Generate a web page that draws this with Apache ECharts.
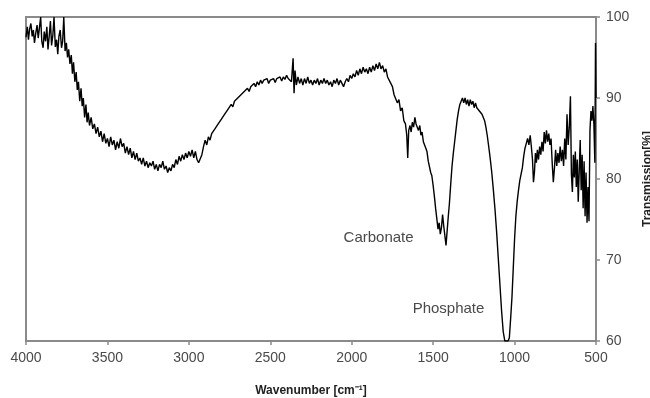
<!DOCTYPE html>
<html>
<head>
<meta charset="utf-8">
<script src="https://cdn.jsdelivr.net/npm/echarts@6/dist/echarts.min.js"></script>
<style>html,body{margin:0;padding:0;background:#fff}#c{width:650px;height:398px}</style>
</head>
<body>
<div id="c"></div>
<script>
// Wavenumber (cm-1) and transmission (%)
const wavenumber = [
4000,3992,3985,3978,3970,3962,3955,3948,3940,3932,3925,3918,3910,3903,3895,3888,3880,3872,3865,3858,
3850,3843,3835,3828,3820,3812,3805,3798,3790,3782,3775,3768,3760,3752,3745,3738,3730,3722,3715,3708,
3700,3692,3685,3678,3670,3662,3655,3648,3640,3632,3625,3618,3610,3600,3590,3580,3570,3560,3550,3540,
3530,3520,3510,3500,3490,3480,3470,3460,3450,3440,3430,3420,3410,3400,3390,3380,3370,3360,3350,3340,
3330,3320,3310,3300,3290,3280,3270,3260,3250,3240,3230,3220,3210,3200,3190,3180,3170,3160,3150,3140,
3130,3120,3110,3100,3090,3080,3070,3060,3050,3040,3030,3020,3010,3000,2990,2980,2970,2960,2950,2940,
2930,2920,2910,2900,2890,2880,2870,2860,2850,2840,2830,2820,2810,2800,2790,2780,2770,2760,2750,2740,
2730,2720,2710,2700,2690,2680,2670,2660,2650,2640,2630,2620,2610,2600,2590,2580,2570,2560,2550,2540,
2530,2520,2510,2500,2490,2480,2470,2460,2450,2440,2430,2420,2410,2400,2390,2380,2370,2360,2354,2348,
2340,2330,2320,2310,2300,2290,2280,2270,2260,2250,2240,2230,2220,2210,2200,2190,2180,2170,2160,2150,
2140,2130,2120,2110,2100,2090,2080,2070,2060,2050,2040,2030,2020,2010,2000,1990,1980,1970,1960,1950,
1940,1930,1920,1910,1900,1890,1880,1870,1860,1850,1840,1830,1820,1810,1800,1790,1780,1770,1760,1750,
1740,1730,1720,1710,1700,1690,1680,1670,1662,1656,1650,1642,1635,1628,1620,1612,1605,1598,1590,1582,
1575,1568,1560,1552,1545,1538,1530,1522,1515,1508,1500,1492,1485,1478,1470,1463,1456,1449,1442,1435,
1428,1421,1414,1407,1400,1392,1384,1376,1368,1360,1352,1344,1336,1328,1320,1312,1304,1296,1288,1280,
1272,1264,1256,1248,1240,1232,1224,1216,1208,1200,1192,1184,1176,1168,1160,1150,1140,1130,1120,1110,
1100,1090,1080,1070,1060,1050,1040,1032,1024,1016,1008,1000,992,984,976,968,960,952,944,936,
928,920,912,904,897,890,884,878,872,866,860,853,846,839,832,825,818,811,804,797,
790,783,776,769,762,755,748,741,734,727,720,713,706,699,692,685,678,671,664,657,
651,645,639,633,627,621,615,609,603,597,591,585,579,573,567,561,555,549,543,537,
531,525,519,513,507,503,500
];
const transmission = [
97.5,98.8,97.2,98.5,99.2,97.6,98.4,96.8,98.0,99.0,97.4,98.6,100.0,97.0,96.2,98.2,97.0,98.8,96.0,97.5,
99.5,96.5,97.8,100.0,96.3,97.2,95.4,97.6,98.4,96.2,97.0,100.0,95.8,96.8,95.0,96.0,94.2,95.3,93.0,94.4,
92.0,93.2,91.0,92.0,89.6,91.2,89.0,90.0,87.6,89.2,87.0,88.2,86.6,87.6,86.2,86.8,85.6,86.4,85.2,85.9,
84.6,85.6,84.4,85.0,84.0,85.2,84.2,84.8,83.6,84.6,83.8,85.0,84.0,84.4,83.2,84.0,83.0,83.8,82.6,83.4,
82.4,83.2,82.2,82.6,81.8,82.6,81.6,82.2,81.4,82.0,81.6,82.2,81.2,81.8,81.0,81.8,81.4,82.2,81.2,81.6,
80.8,81.4,81.0,81.8,81.4,82.4,81.8,82.8,82.2,83.0,82.4,83.2,82.6,83.4,82.8,83.6,82.6,83.4,82.4,82.0,
81.8,83.0,84.0,84.8,84.2,85.2,84.8,85.6,85.4,86.2,86.0,86.8,86.6,87.4,87.2,88.0,87.8,88.6,88.4,89.2,
88.9,89.6,89.4,90.0,89.8,90.4,90.2,90.8,90.6,91.2,90.8,91.4,91.2,91.8,91.4,92.0,91.6,92.2,91.8,92.2,
92.0,92.4,91.8,92.2,92.0,92.4,91.9,92.4,92.2,92.6,92.1,92.6,92.3,92.8,92.4,92.6,92.0,94.9,90.6,93.4,
91.6,92.6,91.8,92.4,91.6,92.4,91.8,92.6,91.8,92.2,91.6,92.2,91.8,92.4,91.6,92.2,91.8,92.4,91.8,92.2,
91.6,92.0,91.4,92.2,91.8,92.4,91.6,92.2,91.8,91.4,92.0,92.4,92.0,92.8,92.4,93.0,92.6,93.4,92.8,93.6,
93.0,93.8,93.2,93.6,93.0,93.8,93.2,94.0,93.4,94.2,93.6,94.4,93.6,94.0,93.2,93.6,92.6,92.8,91.8,91.4,
90.4,90.6,89.4,89.8,88.4,88.8,87.2,86.8,85.4,82.6,86.0,86.6,85.8,87.0,86.4,87.6,86.8,87.0,86.0,86.6,
85.4,85.8,84.6,84.8,83.8,83.4,82.2,82.0,80.8,80.4,79.2,77.8,76.4,75.2,73.8,74.6,73.2,74.0,75.6,74.2,
73.0,71.8,73.6,75.4,77.0,79.4,81.6,83.2,84.6,86.0,87.4,88.4,89.2,89.6,90.0,89.4,90.0,89.2,89.8,89.0,
89.8,89.2,89.6,88.8,89.4,88.8,89.0,88.4,88.6,88.0,87.8,87.2,86.4,85.4,84.2,82.6,80.8,78.6,76.2,73.4,
70.2,67.0,63.8,61.2,60.0,60.0,60.0,60.4,62.8,65.4,69.0,72.6,75.4,77.2,78.6,79.8,80.6,81.4,82.8,83.8,
84.4,85.0,84.2,85.4,84.0,82.4,79.6,80.8,83.2,82.0,83.6,82.4,84.0,83.0,84.6,83.4,85.8,84.4,86.0,84.6,
85.6,84.2,85.0,82.0,79.6,81.4,83.6,81.6,83.2,82.0,84.0,82.2,83.6,81.6,85.0,82.4,88.0,84.2,86.4,90.2,
80.6,78.4,83.0,80.2,83.4,79.0,82.4,77.2,81.0,84.8,78.6,83.0,76.4,82.2,75.4,80.8,74.6,79.0,74.8,86.0,
88.4,87.2,89.0,86.8,82.0,96.8,90.0
];
const xTicks = [4000, 3500, 3000, 2500, 2000, 1500, 1000, 500];
const yTicks = [60, 70, 80, 90, 100];
const peakLabels = ['Carbonate', 'Phosphate'];
const peakLabelAnchors = [[2053, 72.7], [1629, 64.0]];

const seriesData = wavenumber.map((w, i) => [w, transmission[i]]);
const chart = echarts.init(document.getElementById('c'), null, {renderer: 'canvas'});
const axisGrey = '#8a8a8a';
const textGrey = '#4a4a4a';
const labelFont = {fontFamily: 'Liberation Sans', fontSize: 14, color: textGrey};
chart.setOption({
  animation: false,
  backgroundColor: '#ffffff',
  grid: {left: 26, right: 54, top: 17, bottom: 57, containLabel: false, outerBoundsMode: 'none',
         show: true, borderColor: axisGrey, borderWidth: 2, backgroundColor: 'transparent'},
  xAxis: {
    type: 'value', inverse: true,
    min: xTicks[xTicks.length - 1], max: xTicks[0], interval: 500,
    name: 'Wavenumber [cm⁻¹]', nameLocation: 'middle', nameGap: 44,
    nameTextStyle: {fontFamily: 'Liberation Sans', fontWeight: 'bold', fontSize: 12, color: '#222'},
    axisLine: {show: true, lineStyle: {color: axisGrey, width: 2}},
    axisTick: {show: true, inside: false, length: 4, lineStyle: {color: axisGrey, width: 1.5}},
    axisLabel: Object.assign({margin: 10, formatter: v => String(v)}, labelFont),
    splitLine: {show: false}
  },
  yAxis: {
    type: 'value', position: 'right',
    min: yTicks[0], max: yTicks[yTicks.length - 1], interval: 10,
    name: 'Transmission[%]', nameLocation: 'middle', nameGap: 46, nameRotate: 90,
    nameTextStyle: {fontFamily: 'Liberation Sans', fontWeight: 'bold', fontSize: 12, color: '#222'},
    axisLine: {show: true, lineStyle: {color: axisGrey, width: 2}},
    axisTick: {show: true, inside: false, length: 4, lineStyle: {color: axisGrey, width: 1.5}},
    axisLabel: Object.assign({margin: 10, formatter: v => String(v)}, labelFont),
    splitLine: {show: false}
  },
  series: [{
    type: 'line', data: seriesData, showSymbol: false, smooth: false,
    lineStyle: {color: '#000', width: 1.4}, clip: true,
    markPoint: {
      symbol: 'rect', symbolSize: 1,
      itemStyle: {color: 'rgba(0,0,0,0)'},
      label: {show: true, position: 'right', distance: 0, fontFamily: 'Liberation Sans', fontSize: 15, color: textGrey},
      data: peakLabels.map((name, i) => ({coord: peakLabelAnchors[i], label: {formatter: name}}))
    }
  }]
});
</script>
</body>
</html>
